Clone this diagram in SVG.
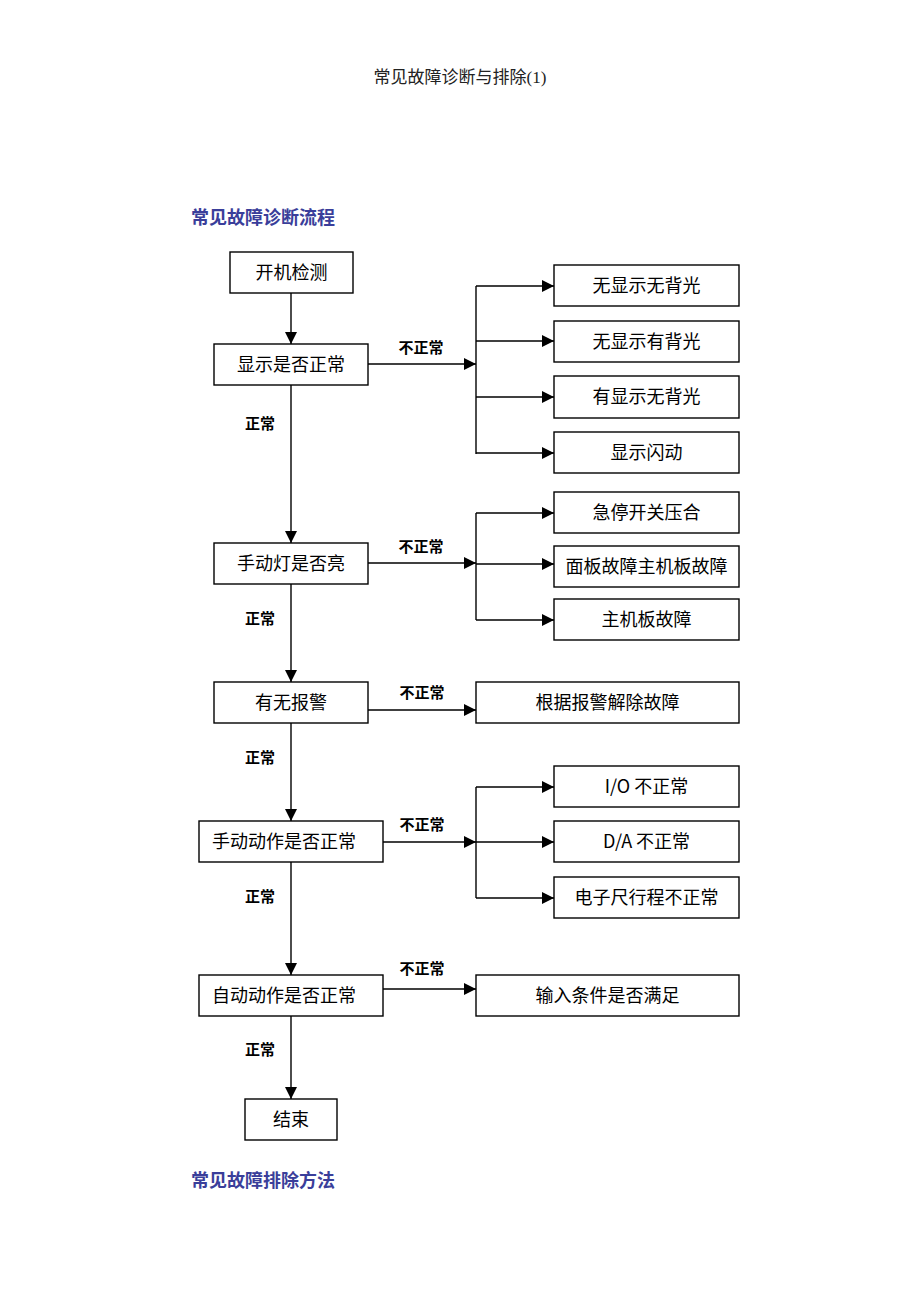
<svg xmlns="http://www.w3.org/2000/svg" width="920" height="1302" viewBox="0 0 920 1302">
<style>
.box{fill:#fff;stroke:#000;stroke-width:1.4}
.t{font-family:"Noto Sans CJK SC","Liberation Sans",sans-serif;font-size:18px;fill:#000;text-anchor:middle}
.lbl{font-family:"Noto Sans CJK SC","Liberation Sans",sans-serif;font-size:15px;font-weight:bold;fill:#000;text-anchor:middle}
.hd{font-family:"Noto Sans CJK SC","Liberation Sans",sans-serif;font-size:18px;font-weight:bold;fill:#3a3e9a}
.title{font-family:"Liberation Serif","Noto Sans CJK SC",serif;font-size:17px;fill:#222;text-anchor:middle}
.c{fill:none;stroke:#000;stroke-width:1.4}
</style>
<defs>
<marker id="ah" viewBox="0 0 10 10" markerWidth="13" markerHeight="12" refX="10" refY="5" orient="auto" markerUnits="userSpaceOnUse">
<path d="M0,0 L10,5 L0,10 z" fill="#000"/>
</marker>
</defs>
<rect width="920" height="1302" fill="#fff"/>
<text class="title" x="460" y="83">常见故障诊断与排除(1)</text>
<text class="hd" x="191" y="224">常见故障诊断流程</text>
<text class="hd" x="191" y="1187">常见故障排除方法</text>

<g id="connectors">
<path class="c" d="M291,293 V344" marker-end="url(#ah)"/>
<path class="c" d="M291,385 V543" marker-end="url(#ah)"/>
<path class="c" d="M291,584 V682" marker-end="url(#ah)"/>
<path class="c" d="M291,723 V821" marker-end="url(#ah)"/>
<path class="c" d="M291,862 V975" marker-end="url(#ah)"/>
<path class="c" d="M291,1016 V1099" marker-end="url(#ah)"/>

<path class="c" d="M368,364 H476" marker-end="url(#ah)"/>
<path class="c" d="M476,286 V454"/>
<path class="c" d="M476,286 H554" marker-end="url(#ah)"/>
<path class="c" d="M476,341 H554" marker-end="url(#ah)"/>
<path class="c" d="M476,397 H554" marker-end="url(#ah)"/>
<path class="c" d="M476,453 H554" marker-end="url(#ah)"/>

<path class="c" d="M368,563 H476" marker-end="url(#ah)"/>
<path class="c" d="M476,513 V620"/>
<path class="c" d="M476,513 H554" marker-end="url(#ah)"/>
<path class="c" d="M476,564 H554" marker-end="url(#ah)"/>
<path class="c" d="M476,620 H554" marker-end="url(#ah)"/>

<path class="c" d="M368,710 H476" marker-end="url(#ah)"/>

<path class="c" d="M383,842 H476" marker-end="url(#ah)"/>
<path class="c" d="M476,787 V898"/>
<path class="c" d="M476,787 H554" marker-end="url(#ah)"/>
<path class="c" d="M476,842 H554" marker-end="url(#ah)"/>
<path class="c" d="M476,898 H554" marker-end="url(#ah)"/>

<path class="c" d="M383,989 H476" marker-end="url(#ah)"/>

<text class="lbl" x="421" y="353">不正常</text>
<text class="lbl" x="260" y="429">正常</text>
<text class="lbl" x="421" y="552">不正常</text>
<text class="lbl" x="260" y="624">正常</text>
<text class="lbl" x="422" y="698">不正常</text>
<text class="lbl" x="260" y="763">正常</text>
<text class="lbl" x="422" y="830">不正常</text>
<text class="lbl" x="260" y="902">正常</text>
<text class="lbl" x="422" y="974">不正常</text>
<text class="lbl" x="260" y="1055">正常</text>
</g>

<g id="n_start"><rect class="box" x="230" y="252" width="123" height="41"/><text class="t" x="291.5" y="279">开机检测</text></g>
<g id="n_display"><rect class="box" x="214" y="344" width="154" height="41"/><text class="t" x="291" y="371">显示是否正常</text></g>
<g id="n_lamp"><rect class="box" x="214" y="543" width="154" height="41"/><text class="t" x="291" y="570">手动灯是否亮</text></g>
<g id="n_alarm"><rect class="box" x="214" y="682" width="154" height="41"/><text class="t" x="291" y="709">有无报警</text></g>
<g id="n_manual"><rect class="box" x="199" y="821" width="184" height="41"/><text class="t" x="284" y="848">手动动作是否正常</text></g>
<g id="n_auto"><rect class="box" x="199" y="975" width="184" height="41"/><text class="t" x="284" y="1002">自动动作是否正常</text></g>
<g id="n_end"><rect class="box" x="245" y="1099" width="92" height="41"/><text class="t" x="291" y="1126">结束</text></g>

<g id="r1"><rect class="box" x="554" y="265" width="185" height="41"/><text class="t" x="646.5" y="292">无显示无背光</text></g>
<g id="r2"><rect class="box" x="554" y="321" width="185" height="41"/><text class="t" x="646.5" y="348">无显示有背光</text></g>
<g id="r3"><rect class="box" x="554" y="376" width="185" height="42"/><text class="t" x="646.5" y="403">有显示无背光</text></g>
<g id="r4"><rect class="box" x="554" y="432" width="185" height="41"/><text class="t" x="646.5" y="459">显示闪动</text></g>
<g id="r5"><rect class="box" x="554" y="492" width="185" height="41"/><text class="t" x="646.5" y="519">急停开关压合</text></g>
<g id="r6"><rect class="box" x="554" y="546" width="185" height="41"/><text class="t" x="646.5" y="573">面板故障主机板故障</text></g>
<g id="r7"><rect class="box" x="554" y="599" width="185" height="41"/><text class="t" x="646.5" y="626">主机板故障</text></g>
<g id="r8"><rect class="box" x="476" y="682" width="263" height="41"/><text class="t" x="607.5" y="709">根据报警解除故障</text></g>
<g id="r9"><rect class="box" x="554" y="766" width="185" height="41"/><text class="t" x="646.5" y="793">I/O 不正常</text></g>
<g id="r10"><rect class="box" x="554" y="821" width="185" height="41"/><text class="t" x="646.5" y="848">D/A 不正常</text></g>
<g id="r11"><rect class="box" x="554" y="877" width="185" height="41"/><text class="t" x="646.5" y="904">电子尺行程不正常</text></g>
<g id="r12"><rect class="box" x="476" y="975" width="263" height="41"/><text class="t" x="607.5" y="1002">输入条件是否满足</text></g>
</svg>
